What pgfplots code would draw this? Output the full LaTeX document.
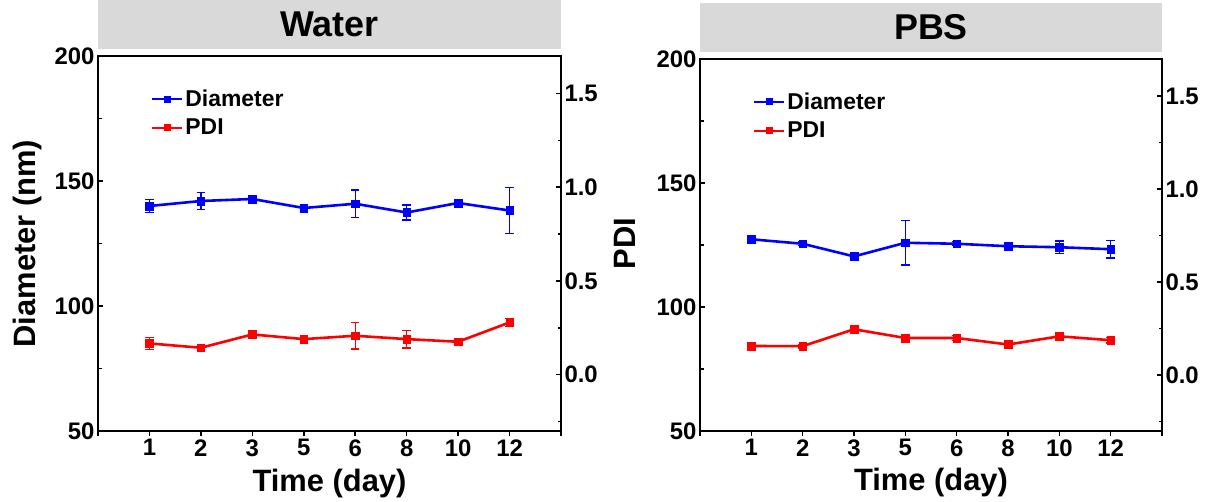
\documentclass[border=0pt]{standalone}
\usepackage{fontspec}
\setmainfont{Liberation Sans}
\usepackage{pgfplots}
\pgfplotsset{compat=1.18}
\usepackage{pgfplotstable}

\definecolor{dblue}{RGB}{0,0,255}
\definecolor{dred}{RGB}{255,0,0}
\definecolor{barfill}{RGB}{217,217,217}

% Water: diameter (nm) and PDI, mean and error
\pgfplotstableread{
x y e
0 140.0 2.5
1 142.0 3.5
2 142.8 1.0
3 139.2 1.2
4 140.9 5.5
5 137.4 3.0
6 141.2 1.5
7 138.2 9.2
}\waterdiam
\pgfplotstableread{
x y e
0 0.167 0.031
1 0.144 0.012
2 0.215 0.012
3 0.190 0.012
4 0.208 0.070
5 0.190 0.047
6 0.176 0.012
7 0.279 0.022
}\waterpdi
% PBS: diameter (nm) and PDI, mean and error
\pgfplotstableread{
x y e
0 127.3 1.5
1 125.5 0.8
2 120.4 1.0
3 125.9 9.0
4 125.5 0.8
5 124.5 0.8
6 124.1 2.5
7 123.3 3.6
}\pbsdiam
\pgfplotstableread{
x y e
0 0.157 0.012
1 0.156 0.010
2 0.247 0.020
3 0.200 0.018
4 0.200 0.012
5 0.165 0.012
6 0.209 0.018
7 0.188 0.015
}\pbspdi

\pgfplotsset{
  panel/.style={
    scale only axis, anchor=south west, clip=false,
    xmin=-1, xmax=8,
    axis line style={line width=1.8bp},
    major tick length=5bp, minor tick length=3.5bp,
    tick style={black, line width=1.5bp},
    tick label style={font=\fontsize{24}{24}\selectfont\bfseries},
    label style={font=\fontsize{31}{31}\selectfont\bfseries},
  },
  leftaxis/.style={
    panel, ymin=50, ymax=200,
    xtick={-1,0,...,8}, xticklabels={{},1,2,3,5,6,8,10,12,{}},
    xtick pos=left, xtick align=outside,
    ytick={50,100,150,200}, yticklabels={50,100,150,200},
    minor ytick={75,125,175}, ytick pos=left, ytick align=inside,
    xlabel={Time (day)},
    xlabel style={at={(axis description cs:0.5,-0.139)}, anchor=center},
  },
  rightaxis/.style={
    panel, ymin=-0.3, ymax=1.7,
    axis x line=none, axis y line*=right, xtick=\empty,
    ytick={0,0.5,1,1.5}, yticklabels={0.0,0.5,1.0,1.5},
    minor ytick={-0.25,0.25,0.75,1.25}, ytick align=inside,
    legend style={at={(axis description cs:0.115,0.915)}, anchor=north west,
      draw=none, fill=none, inner sep=0pt,
      font=\fontsize{23}{23}\selectfont\bfseries,
      nodes={inner sep=2bp}, row sep=7bp},
    legend cell align=left,
    legend image code/.code={\draw[mark repeat=2, mark phase=2, #1, line width=2bp, mark size=2.6bp]
      plot coordinates {(0bp,0bp)(15bp,0bp)(30bp,0bp)};},
  },
  series/.style={#1, line width=2.6bp, mark=square*, mark size=3.8bp,
    mark options={solid, line width=0.5bp},
    /pgfplots/error bars/y dir=both,
    /pgfplots/error bars/y explicit,
    /pgfplots/error bars/error bar style={line width=1.4bp, #1},
    /pgfplots/error bars/error mark options={line width=1.4bp, mark size=4.2bp, #1, rotate=90}},
}

\begin{document}
\begin{tikzpicture}
\useasboundingbox (0bp,0bp) rectangle (1207bp,502bp);

% ---- Water ----
\begin{axis}[leftaxis, at={(98bp,71bp)}, width=463bp, height=375bp,
  ylabel={Diameter (nm)},
  ylabel style={at={(axis description cs:-0.153,0.5)}, anchor=center}]
\addplot[series=dblue] table[x=x, y=y, y error=e]{\waterdiam};
\end{axis}
\begin{axis}[rightaxis, at={(98bp,71bp)}, width=463bp, height=375bp,
  ylabel={PDI},
  ylabel style={at={(axis description cs:1.138,0.5)}, anchor=center}]
\addlegendimage{dblue, mark=square*}
\addlegendentry{Diameter}
\addlegendimage{dred, mark=square*}
\addlegendentry{PDI}
\addplot[forget plot, series=dred] table[x=x, y=y, y error=e]{\waterpdi};
\end{axis}
\fill[barfill] (98bp,453bp) rectangle (561bp,502bp);
\node[font=\fontsize{36}{36}\selectfont\bfseries] at (329.5bp,477.5bp) {Water};

% ---- PBS ----
\begin{axis}[leftaxis, at={(700bp,71bp)}, width=462bp, height=372bp]
\addplot[series=dblue] table[x=x, y=y, y error=e]{\pbsdiam};
\end{axis}
\begin{axis}[rightaxis, at={(700bp,71bp)}, width=462bp, height=372bp]
\addlegendimage{dblue, mark=square*}
\addlegendentry{Diameter}
\addlegendimage{dred, mark=square*}
\addlegendentry{PDI}
\addplot[forget plot, series=dred] table[x=x, y=y, y error=e]{\pbspdi};
\end{axis}
\fill[barfill] (700bp,450bp) rectangle (1162bp,499bp);
\node[font=\fontsize{36}{36}\selectfont\bfseries] at (931bp,474.5bp) {PBS};
\end{tikzpicture}
\end{document}
